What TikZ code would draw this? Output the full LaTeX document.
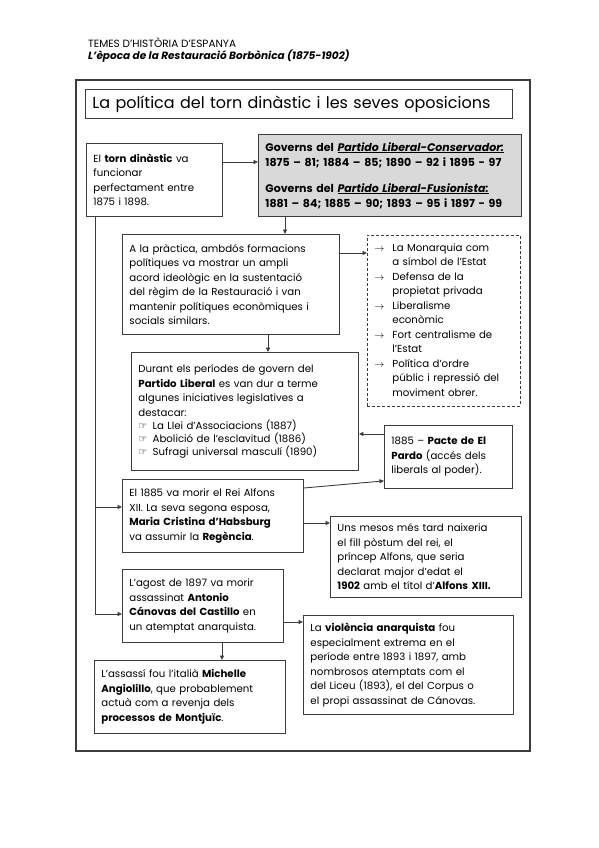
\documentclass[tikz,border=0pt]{standalone}
\usepackage{fontspec}
\setmainfont{Poppins}
\newfontfamily\handfont{DejaVu Sans}
\usetikzlibrary{arrows.meta,positioning,calc}
\definecolor{FrameColor}{RGB}{60,60,60}
\definecolor{GreyFill}{RGB}{217,217,217}
\tikzset{
  restbox/.style={draw=FrameColor, line width=0.9pt, anchor=north west, align=left,
    inner xsep=7pt, inner ysep=2pt, font=\fontsize{10.2}{14.5}\selectfont},
  restgrey/.style={restbox, fill=GreyFill, font=\bfseries\fontsize{11}{15}\selectfont},
  restdash/.style={restbox, dashed, dash pattern=on 3pt off 2pt},
  restarrow/.style={-{Triangle[length=4.5pt,width=4pt]}, line width=0.9pt, draw=FrameColor},
}
\newcommand{\hand}{{\handfont ☞}\enspace}
\newcommand{\toarrow}{$\rightarrow$}

\begin{document}
\begin{tikzpicture}[x=1pt, y=-1pt]
  \useasboundingbox (0,0) rectangle (599,848);

  % capcalera
  \node[anchor=base west, inner sep=0pt, font=\fontsize{10.5}{12}\selectfont] (tema) at (88,48) {TEMES D’HISTÒRIA D’ESPANYA};
  \node[anchor=base west, inner sep=0pt, font=\bfseries\itshape\fontsize{10.5}{12}\selectfont] (epoca) at (88,60) {L’època de la Restauració Borbònica (1875-1902)};

  \draw[draw=FrameColor, line width=1.3pt] (76,80) rectangle (530,751);
  \node[restbox, text width=413pt, minimum height=29pt, font=\fontsize{16}{18}\selectfont] (titol) at (85,89) {La política del torn dinàstic i les seves oposicions};

  % caixes
  \node[restbox, text width=122pt, minimum height=73pt] (torn) at (86,143)
    {El \textbf{torn dinàstic} va\\funcionar\\perfectament entre\\1875 i 1898.};
  \node[restgrey, text width=249pt, minimum height=82pt] (govern) at (258,134)
    {Governs del \underline{\textit{Partido Liberal-Conservador:}}\\
     1875 – 81; 1884 – 85; 1890 – 92 i 1895 - 97\\[11pt]
     Governs del \underline{\textit{Partido Liberal-Fusionista:}}\\
     1881 – 84; 1885 – 90; 1893 – 95 i 1897 - 99};
  \node[restbox, text width=203pt, minimum height=100pt] (practica) at (122,234)
    {A la pràctica, ambdós formacions\\polítiques va mostrar un ampli\\acord ideològic en la sustentació\\del règim de la Restauració i van\\mantenir polítiques econòmiques i\\socials similars.};
  \node[restdash, text width=139pt, minimum height=171pt] (ideari) at (367,235)
    {\begin{tabular}{@{}l@{\hspace{8pt}}l@{}}
      \toarrow & La Monarquia com\\ & a símbol de l’Estat\\
      \toarrow & Defensa de la\\ & propietat privada\\
      \toarrow & Liberalisme\\ & econòmic\\
      \toarrow & Fort centralisme de\\ & l’Estat\\
      \toarrow & Política d’ordre\\ & públic i repressió del\\ & moviment obrer.
     \end{tabular}};
  \node[restbox, text width=213pt, minimum height=118pt] (liberal) at (131,352)
    {Durant els períodes de govern del\\\textbf{Partido Liberal} es van dur a terme\\algunes iniciatives legislatives a\\destacar:\\[-1.5pt]
     \hand La Llei d’Associacions (1887)\\[-1.5pt]
     \hand Abolició de l’esclavitud (1886)\\[-1.5pt]
     \hand Sufragi universal masculí (1890)};
  \node[restbox, text width=114pt, minimum height=63pt] (pardo) at (384,425)
    {1885 – \textbf{Pacte de El}\\\textbf{Pardo} (accés dels\\liberals al poder).};
  \node[restbox, text width=167pt, minimum height=73pt] (alfons) at (122,479)
    {El 1885 va morir el Rei Alfons\\XII. La seva segona esposa,\\\textbf{Maria Cristina d’Habsburg}\\va assumir la \textbf{Regència}.};
  \node[restbox, text width=177pt, minimum height=81pt] (postum) at (330,516)
    {Uns mesos més tard naixeria\\el fill pòstum del rei, el\\príncep Alfons, que seria\\declarat major d’edat el\\\textbf{1902} amb el títol d’\textbf{Alfons XIII.}};
  \node[restbox, text width=147pt, minimum height=73pt] (canovas) at (122,569)
    {L’agost de 1897 va morir\\assassinat \textbf{Antonio}\\\textbf{Cánovas del Castillo} en\\un atemptat anarquista.};
  \node[restbox, text width=196pt, minimum height=99pt] (violencia) at (303,615)
    {La \textbf{violència anarquista} fou\\especialment extrema en el\\període entre 1893 i 1897, amb\\nombrosos atemptats com el\\del Liceu (1893), el del Corpus o\\el propi assassinat de Cánovas.};
  \node[restbox, text width=177pt, minimum height=73pt] (assassi) at (94,660)
    {L’assassí fou l’italià \textbf{Michelle}\\\textbf{Angiolillo}, que probablement\\actuà com a revenja dels\\\textbf{processos de Montjuïc}.};

  % connectors
  \coordinate (c1) at ([yshift=-19pt]torn.north east);
  \draw[restarrow] (c1) -- (c1 -| govern.west);
  \coordinate (c2) at ([xshift=27pt]govern.south west);
  \draw[restarrow] (c2) -- (c2 |- practica.north);
  \coordinate (c3) at ([yshift=-19pt]practica.north east);
  \draw[restarrow] (c3) -- (c3 -| ideari.west);
  \coordinate (c4) at ([xshift=146pt]practica.south west);
  \draw[restarrow] (c4) -- (c4 |- liberal.north);
  \coordinate (c5) at ([yshift=-9pt]pardo.north west);
  \draw[restarrow] (c5) -- (c5 -| liberal.east);
  \coordinate (c6) at ([yshift=-9pt]alfons.north east);
  \coordinate (c7) at ([yshift=8pt]pardo.south west);
  \draw[restarrow] (c6) -- (c7);
  \coordinate (c8) at ([yshift=-44pt]alfons.north east);
  \draw[restarrow] (c8) -- (c8 -| postum.west);
  \coordinate (c9) at ([yshift=-53pt]canovas.north east);
  \draw[restarrow] (c9) -- (c9 -| violencia.west);
  \coordinate (c10) at ([xshift=100pt]canovas.south west);
  \draw[restarrow] (c10) -- (c10 |- assassi.north);

  % linia lateral
  \coordinate (s0) at ([xshift=9pt]torn.south west);
  \coordinate (s1) at ([yshift=-28pt]alfons.north west);
  \coordinate (s2) at ([yshift=-45pt]canovas.north west);
  \draw[restarrow] (s0) |- (s2);
  \draw[restarrow] (s1 -| s0) -- (s1);
\end{tikzpicture}
\end{document}
